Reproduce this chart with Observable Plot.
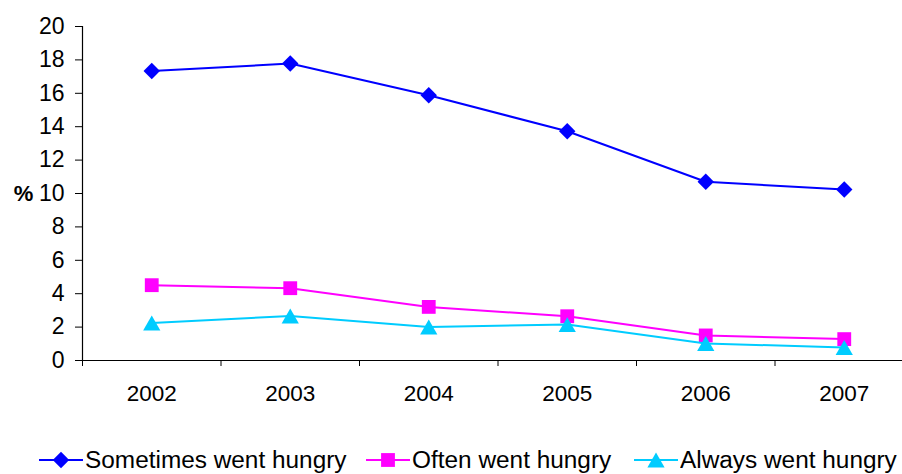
<!DOCTYPE html>
<html>
<head>
<meta charset="utf-8">
<script src="https://cdn.jsdelivr.net/npm/d3@7"></script>
<script src="https://cdn.jsdelivr.net/npm/@observablehq/plot@0.6"></script>
<style>
  html, body { margin: 0; padding: 0; background: #fff; }
  #wrap { position: relative; width: 902px; height: 474px; overflow: hidden; font-family: "Liberation Sans", Arial, sans-serif; }
  #legend { position: absolute; left: 0; top: 446px; width: 902px; height: 28px; }
  .item { position: absolute; top: 0; display: flex; align-items: center; height: 28px; }
  .item span { font-size: 23px; color: #000; white-space: nowrap; display: inline-block; transform: scaleX(1.06); transform-origin: left center; }
  .item svg { display: block; }
  #chart g[aria-label="y-axis tick label"] text, #chart g[aria-label="y-axis tick label"] { font-size: 23px !important; }
  #chart g[aria-label="x-axis tick label"] text, #chart g[aria-label="x-axis tick label"] { font-size: 22.5px !important; }
</style>
</head>
<body>
<div id="wrap"><div id="chart"></div><div id="legend"></div></div>
<script>
const years = [2002, 2003, 2004, 2005, 2006, 2007];
const sometimes = [17.34, 17.78, 15.88, 13.73, 10.7, 10.24];
const often = [4.51, 4.33, 3.21, 2.65, 1.5, 1.28];
const always = [2.25, 2.67, 2.01, 2.15, 1.02, 0.78];
const seriesNames = ["Sometimes went hungry", "Often went hungry", "Always went hungry"];
const seriesColors = ["#0000FF", "#FF00FF", "#00CCFF"];
const yTicks = [0, 2, 4, 6, 8, 10, 12, 14, 16, 18, 20];
const yLabel = "%";

const seriesValues = [sometimes, often, always];
const rows = [];
seriesNames.forEach((name, i) => {
  years.forEach((yr, j) => rows.push({series: name, year: yr, value: seriesValues[i][j]}));
});
const boundaries = [years[0] - 0.5, ...years.map(y => y + 0.5)];
const symbols = ["diamond2", "square", "triangle"];
const radii = [7.4, 7.8, 6.4];
const dys = [0, 0, 2.5];

const marks = [
  Plot.ruleY([0], {stroke: "#000", strokeWidth: 1.2}),
  Plot.ruleX([boundaries[0]], {y1: yTicks[0], y2: yTicks[yTicks.length - 1], stroke: "#000", strokeWidth: 1.2}),
  Plot.axisY({ticks: yTicks, tickSize: 7, tickPadding: 11, label: null, stroke: "#000"}),
  Plot.axisX({ticks: years, tickSize: 0, tickPadding: 25, tickFormat: d => String(d), label: null}),
  Plot.axisX({ticks: boundaries, tickSize: 6, tickFormat: () => "", label: null, stroke: "#000"}),
  Plot.text([yLabel], {text: d => d, y: () => yTicks[5], frameAnchor: "left", dx: -59, textAnchor: "middle", fontWeight: "bold", fontSize: 22})
];
seriesNames.forEach((name, i) => {
  const data = rows.filter(r => r.series === name);
  marks.push(Plot.line(data, {x: "year", y: "value", stroke: seriesColors[i], strokeWidth: 2}));
  marks.push(Plot.dot(data, {x: "year", y: "value", symbol: () => symbols[i], r: radii[i], fill: seriesColors[i], stroke: "none", dy: dys[i]}));
});

const chart = Plot.plot({
  width: 902,
  height: 430,
  marginLeft: 82,
  marginRight: 0,
  marginTop: 26,
  marginBottom: 70,
  x: {domain: [boundaries[0], boundaries[boundaries.length - 1]], range: [82, 913]},
  y: {domain: [yTicks[0], yTicks[yTicks.length - 1]]},
  style: {fontFamily: "'Liberation Sans', Arial, sans-serif", color: "#000", background: "#fff", overflow: "visible"},
  marks
});
document.getElementById("chart").appendChild(chart);

// Legend
const legend = document.getElementById("legend");
const lefts = [38, 365, 633];
const symPaths = [
  d3.symbol(d3.symbolDiamond2, Math.PI * radii[0] * radii[0])(),
  d3.symbol(d3.symbolSquare, Math.PI * radii[1] * radii[1])(),
  d3.symbol(d3.symbolTriangle, Math.PI * radii[2] * radii[2])()
];
seriesNames.forEach((name, i) => {
  const item = document.createElement("div");
  item.className = "item";
  item.style.left = lefts[i] + "px";
  item.innerHTML = `<svg width="46" height="28"><line x1="1" x2="45" y1="14" y2="14" stroke="${seriesColors[i]}" stroke-width="2"/><path d="${symPaths[i]}" transform="translate(23,${14 + dys[i]})" fill="${seriesColors[i]}"/></svg><span style="margin-left:1px">${name}</span>`;
  legend.appendChild(item);
});
</script>
</body>
</html>
